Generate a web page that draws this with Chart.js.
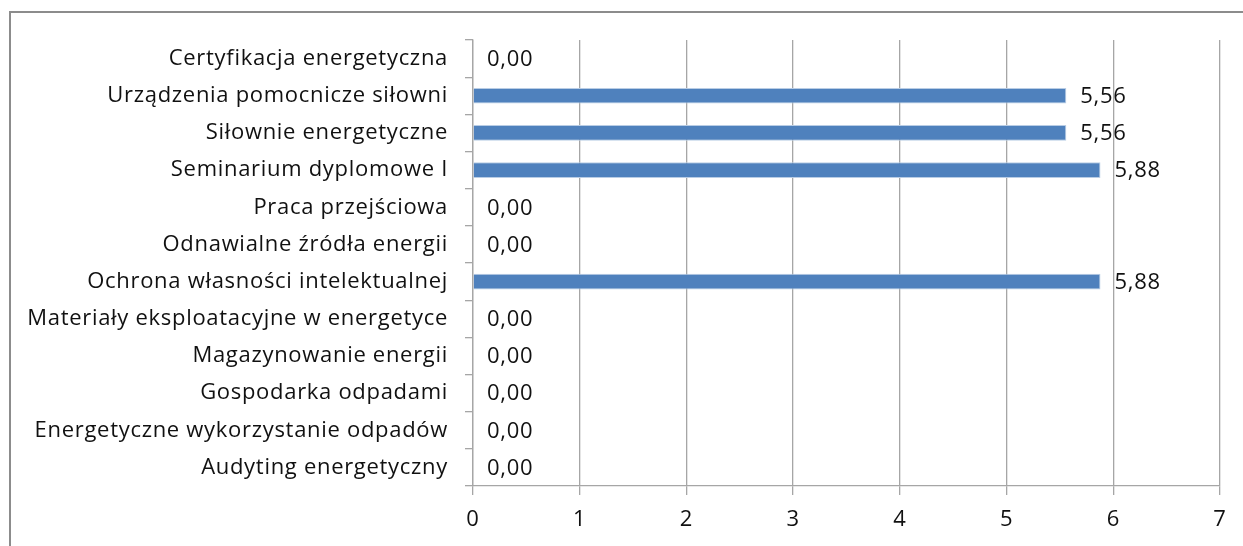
<!DOCTYPE html>
<html>
<head>
<meta charset="utf-8">
<script src="https://cdn.jsdelivr.net/npm/chart.js@4/dist/chart.umd.min.js"></script>
<style>
  html, body { margin: 0; padding: 0; background: #fff; }
  #wrap { position: relative; width: 1243px; height: 546px; overflow: hidden; }
  #frame { position: absolute; left: 9px; top: 11px; width: 1300px; height: 600px;
           border-left: 2px solid #8c8c8c; border-top: 2px solid #8c8c8c; }
  canvas { position: absolute; left: 0; top: 0; }
</style>
</head>
<body>
<div id="wrap">
  <div id="frame"></div>
  <canvas id="chart" width="1243" height="546"></canvas>
</div>
<script>
  var categories = [
    'Certyfikacja energetyczna',
    'Urządzenia pomocnicze siłowni',
    'Siłownie energetyczne',
    'Seminarium dyplomowe I',
    'Praca przejściowa',
    'Odnawialne źródła energii',
    'Ochrona własności intelektualnej',
    'Materiały eksploatacyjne w energetyce',
    'Magazynowanie energii',
    'Gospodarka odpadami',
    'Energetyczne wykorzystanie odpadów',
    'Audyting energetyczny'
  ];
  var values = [0, 5.56, 5.56, 5.88, 0, 0, 5.88, 0, 0, 0, 0, 0];
  var xTicks = [0, 1, 2, 3, 4, 5, 6, 7];

  var FONT = '"Open Sans", "Noto Sans", sans-serif';
  var SPACING = '0.7px';

  // widen the text a bit, the original font runs wider than Open Sans
  var spacing = {
    id: 'spacing',
    beforeDraw: function(chart) {
      chart.ctx.letterSpacing = SPACING;
    }
  };

  // labels like "5,56" to the right of each bar
  var valueLabels = {
    id: 'valueLabels',
    afterDatasetsDraw: function(chart) {
      var ctx = chart.ctx;
      var meta = chart.getDatasetMeta(0);
      ctx.save();
      ctx.font = '22px ' + FONT;
      ctx.letterSpacing = SPACING;
      ctx.fillStyle = '#111';
      ctx.textAlign = 'left';
      ctx.textBaseline = 'middle';
      meta.data.forEach(function(bar, i) {
        var txt = values[i].toFixed(2).replace('.', ',');
        ctx.fillText(txt, bar.x + 14, bar.y + 1);
      });
      ctx.restore();
    }
  };

  new Chart(document.getElementById('chart').getContext('2d'), {
    type: 'bar',
    data: {
      labels: categories,
      datasets: [{
        data: values,
        backgroundColor: '#4f81bd',
        borderColor: '#b9cde5',
        borderWidth: 1,
        categoryPercentage: 1,
        barPercentage: 0.42
      }]
    },
    options: {
      indexAxis: 'y',
      responsive: false,
      animation: false,
      layout: { padding: { left: 0, right: 23, top: 40, bottom: 0 } },
      plugins: {
        legend: { display: false },
        tooltip: { enabled: false }
      },
      scales: {
        x: {
          min: 0,
          max: 7,
          afterBuildTicks: function(scale) {
            scale.ticks = xTicks.map(function(v) { return { value: v }; });
          },
          afterFit: function(scale) { scale.height = 60; },
          grid: { color: '#a6a6a6', lineWidth: 1.3, tickLength: 9, drawOnChartArea: true },
          border: { color: '#a6a6a6', width: 1.3 },
          ticks: { color: '#111', padding: 12, font: { family: FONT, size: 22 } }
        },
        y: {
          afterFit: function(scale) { scale.width = 473; },
          grid: { color: '#a6a6a6', lineWidth: 1.3, tickLength: 8, drawOnChartArea: false, offset: true },
          border: { color: '#a6a6a6', width: 1.3 },
          ticks: { color: '#111', padding: 17, font: { family: FONT, size: 22 } }
        }
      }
    },
    plugins: [spacing, valueLabels]
  });
</script>
</body>
</html>
